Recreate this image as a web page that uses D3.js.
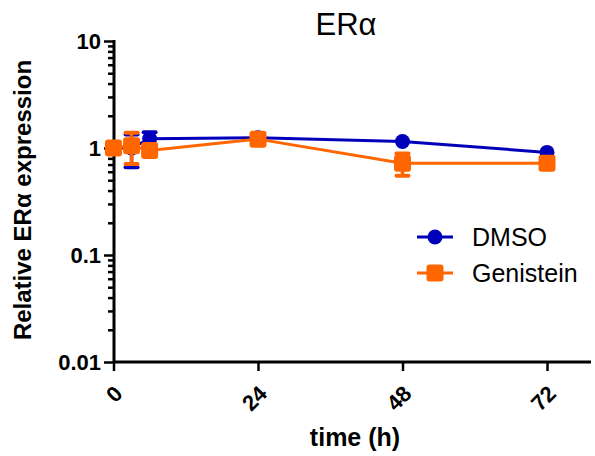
<!DOCTYPE html>
<html><head><meta charset="utf-8">
<script src="https://cdn.jsdelivr.net/npm/d3@7"></script>
<style>body{margin:0;background:#fff}svg{display:block}text{font-family:"Liberation Sans",Arial,Helvetica,sans-serif}</style>
</head><body><svg id="c" width="595" height="456"></svg>
<script>
const times = [0, 3, 6, 24, 48, 72];
const dmsoMean = [1.0, 1.0, 1.22, 1.25, 1.15, 0.91];
const dmsoSem = [0, 0.34, 0.18, 0, 0, 0];
const genMean = [1.0, 1.05, 0.95, 1.21, 0.72, 0.72];
const genSem = [0, 0.34, 0, 0, 0.17, 0];
const xTicks = [0, 24, 48, 72];
const yTicks = [0.01, 0.1, 1, 10];
const yTickLabels = ["0.01", "0.1", "1", "10"];
const seriesNames = ["DMSO", "Genistein"];
const colors = ["#0000bb", "#ff6600"];

const svg = d3.select("#c");
const x = d3.scaleLinear().domain([0, 72]).range([113.5, 547]);
const y = d3.scaleLog().domain([0.01, 10]).range([362, 41]);

// Axes
const yAxis = svg.append("g").attr("transform", "translate(114,0)")
  .call(d3.axisLeft(y).tickValues(yTicks).tickFormat((d, i) => yTickLabels[i]).tickSize(10).tickPadding(3));
const minor = [];
[0.01, 0.1, 1].forEach(b => { for (let k = 2; k <= 9; k++) minor.push(b * k); });
svg.append("g").attr("transform", "translate(114,0)")
  .call(d3.axisLeft(y).tickValues(minor).tickFormat("").tickSize(6))
  .call(g => g.select(".domain").remove())
  .selectAll("line").attr("stroke", "#000").attr("stroke-width", 2.5);
yAxis.select(".domain").attr("stroke-width", 3).attr("d", "M0,40V363");
yAxis.selectAll(".tick line").attr("stroke-width", 2.5);
yAxis.selectAll(".tick text").style("font-size", "22px").attr("font-weight", "bold").attr("fill", "#000");

const xAxis = svg.append("g").attr("transform", "translate(0,362)")
  .call(d3.axisBottom(x).tickValues(xTicks).tickSize(9).tickFormat(d3.format("d")));
xAxis.select(".domain").attr("stroke-width", 3).attr("d", "M113,0H591");
xAxis.selectAll(".tick line").attr("stroke-width", 2.5);
xAxis.selectAll(".tick text").style("font-size", "22px").attr("font-weight", "bold").attr("fill", "#000")
  .attr("text-anchor", "end").attr("dy", null).attr("y", 0)
  .attr("transform", "translate(10,33) rotate(-45)");

// Data series
const data = [
  times.map((t, i) => ({t, m: dmsoMean[i], s: dmsoSem[i]})),
  times.map((t, i) => ({t, m: genMean[i], s: genSem[i]}))
];
const line = d3.line().x(d => x(d.t)).y(d => y(d.m));
data.forEach((ser, si) => {
  const g = svg.append("g");
  const c = colors[si];
  ser.filter(d => d.s > 0).forEach(d => {
    const cx = x(d.t), y1 = y(d.m + d.s), y0 = y(d.m - d.s);
    g.append("line").attr("x1", cx).attr("x2", cx).attr("y1", y1).attr("y2", y0).attr("stroke", c).attr("stroke-width", 3.5);
    [y1, y0].forEach(yy => g.append("line").attr("x1", cx - 6).attr("x2", cx + 6).attr("y1", yy).attr("y2", yy)
      .attr("stroke", c).attr("stroke-width", 4).attr("stroke-linecap", "round"));
  });
  g.append("path").attr("d", line(ser)).attr("fill", "none").attr("stroke", c).attr("stroke-width", 3);
  if (si === 0) {
    g.selectAll("circle").data(ser).join("circle").attr("cx", d => x(d.t)).attr("cy", d => y(d.m)).attr("r", 7.5).attr("fill", c);
  } else {
    g.selectAll("rect").data(ser).join("rect").attr("x", d => x(d.t) - 8.5).attr("y", d => y(d.m) - 8.5)
      .attr("width", 17).attr("height", 17).attr("rx", 3).attr("fill", c);
  }
});

// Legend
const leg = svg.append("g");
seriesNames.forEach((n, i) => {
  const ly = 237 + i * 36;
  leg.append("line").attr("x1", 417).attr("x2", 453).attr("y1", ly).attr("y2", ly).attr("stroke", colors[i]).attr("stroke-width", 3);
  if (i === 0) leg.append("circle").attr("cx", 435).attr("cy", ly).attr("r", 7.5).attr("fill", colors[i]);
  else leg.append("rect").attr("x", 426.5).attr("y", ly - 8.5).attr("width", 17).attr("height", 17).attr("rx", 3).attr("fill", colors[i]);
  leg.append("text").attr("x", 472).attr("y", ly + 8.5).attr("font-size", 25).text(n);
});

// Titles
svg.append("text").attr("x", 346).attr("y", 35).attr("text-anchor", "middle").attr("font-size", 31).text("ERα");
svg.append("text").attr("transform", "translate(31,200) rotate(-90)").attr("text-anchor", "middle")
  .attr("font-size", 24).attr("font-weight", "bold").text("Relative ERα expression");
svg.append("text").attr("x", 355).attr("y", 446).attr("text-anchor", "middle")
  .attr("font-size", 25).attr("font-weight", "bold").text("time (h)");
</script></body></html>
